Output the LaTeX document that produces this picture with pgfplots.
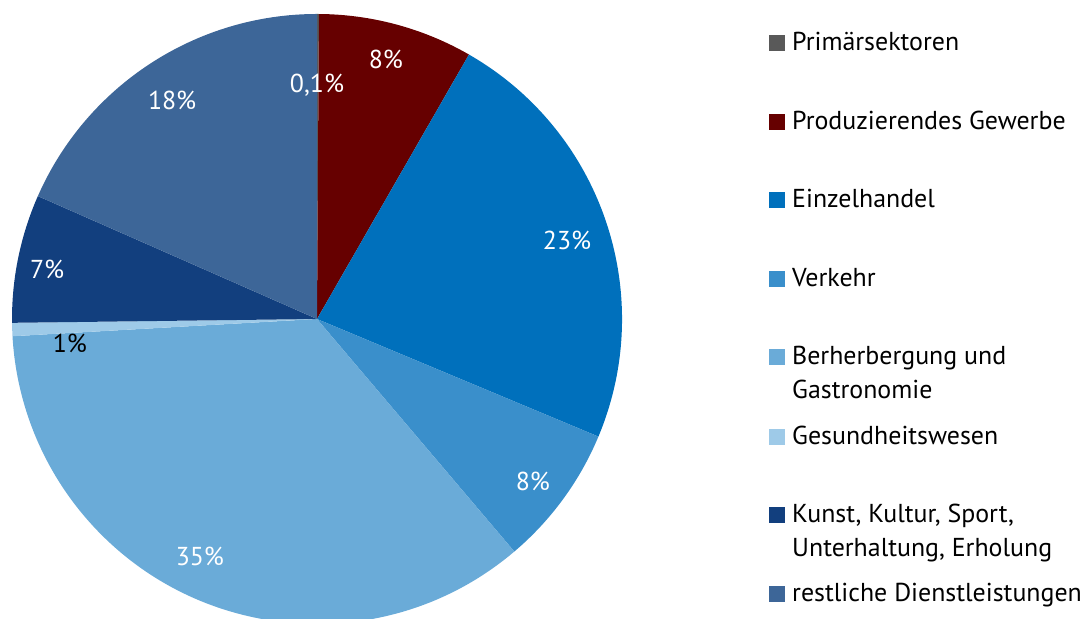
\documentclass[border=0pt]{standalone}
\usepackage{fontspec}
\setmainfont{PT Sans}
\usepackage{pgfplots}
\pgfplotsset{compat=1.18}
\definecolor{cPrim}{HTML}{595959}
\definecolor{cProd}{HTML}{660000}
\definecolor{cEinz}{HTML}{0070BC}
\definecolor{cVerk}{HTML}{3A8FCB}
\definecolor{cBerh}{HTML}{6AABD8}
\definecolor{cGesu}{HTML}{9ECAE8}
\definecolor{cKuns}{HTML}{123F7E}
\definecolor{cRest}{HTML}{3D6698}
% cumulative shares in percent: 0.1, 8.2, 23.0, 7.5, 35.3, 0.7, 6.8, 18.4
\newcommand\slice[3]{\fill[#3] (axis cs:0,0) -- (axis cs:{cos(90-3.6*#1)},{sin(90-3.6*#1)}) arc[start angle={90-3.6*#1}, end angle={90-3.6*#2}, radius=305bp] -- cycle;}
\begin{document}
\fontsize{25.9bp}{30bp}\selectfont
\begin{tikzpicture}[x=1bp,y=1bp]
\path[use as bounding box] (0,0) rectangle (1083,619);
\begin{axis}[hide axis, scale only axis, width=610bp, height=610bp,
  xmin=-1, xmax=1, ymin=-1, ymax=1, at={(317bp,300bp)}, anchor=center, clip=false]
\slice{0}{0.1}{cPrim}
\slice{0.1}{8.3}{cProd}
\slice{8.3}{31.3}{cEinz}
\slice{31.3}{38.8}{cVerk}
\slice{38.8}{74.1}{cBerh}
\slice{74.1}{74.8}{cGesu}
\slice{74.8}{81.6}{cKuns}
\slice{81.6}{100}{cRest}
\node[white] at (axis cs:0,0.767) {0,1\%};
\node[white] at (axis cs:0.226,0.851) {8\%};
\node[white] at (axis cs:0.820,0.256) {23\%};
\node[white] at (axis cs:0.708,-0.531) {8\%};
\node[white] at (axis cs:-0.384,-0.777) {35\%};
\node[black] at (axis cs:-0.810,-0.080) {1\%};
\node[white] at (axis cs:-0.885,0.161) {7\%};
\node[white] at (axis cs:-0.475,0.718) {18\%};
\end{axis}
% legend
\foreach \b/\c/\t in {51/cPrim/Primärsektoren, 130/cProd/Produzierendes Gewerbe, 208/cEinz/Einzelhandel, 287/cVerk/Verkehr, 365/cBerh/Berherbergung und, 445/cGesu/Gesundheitswesen, 523/cKuns/{Kunst, Kultur, Sport,}, 602/cRest/restliche Dienstleistungen}{
  \fill[\c] (769,619-\b) rectangle ++(16,16);
  \node[anchor=base west, inner sep=0pt] at (792,619-\b) {\t};
}
\node[anchor=base west, inner sep=0pt] at (792,619-399) {Gastronomie};
\node[anchor=base west, inner sep=0pt] at (792,619-557) {Unterhaltung, Erholung};
\end{tikzpicture}
\end{document}
